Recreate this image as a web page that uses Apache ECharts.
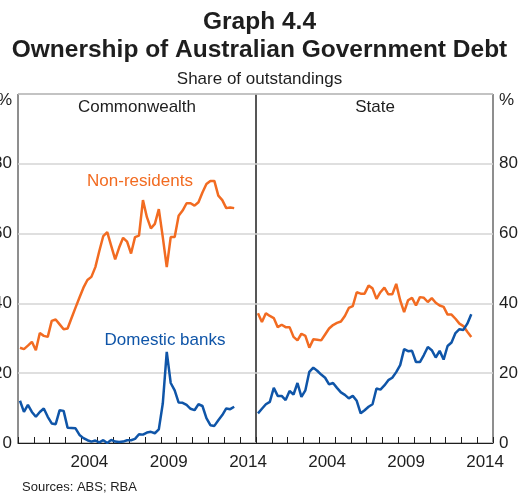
<!DOCTYPE html>
<html>
<head>
<meta charset="utf-8">
<script src="https://cdn.jsdelivr.net/npm/echarts@6/dist/echarts.min.js"></script>
<style>
html,body{margin:0;padding:0;background:#fff}
#chart{width:519px;height:493px}
</style>
</head>
<body>
<div id="chart"></div>
<script>
// quarterly observations, Mar-2000 .. Sep-2013
var startYear = 2000.125;
var stepYear = 0.25;

// Commonwealth
var commNonResidents = [27.3,26.9,27.9,29.0,26.6,31.5,30.7,30.4,35.0,35.4,34.0,32.6,32.8,35.8,38.8,41.7,44.5,46.7,47.6,50.4,55.0,59.3,60.4,56.5,52.6,56.0,58.8,57.7,54.3,59.0,59.4,69.6,64.7,61.5,62.8,67.0,59.0,50.4,59.0,59.0,65.1,66.6,68.7,68.7,68.0,69.0,71.8,74.2,75.1,75.1,70.9,69.6,67.3,67.5,67.3];
var commDomesticBanks = [12.1,8.9,10.9,8.9,7.5,8.9,9.9,7.5,5.6,5.4,9.4,9.2,4.4,4.3,4.2,2.3,1.4,0.8,0.4,0.7,0.2,0.8,0.0,0.9,0.4,0.3,0.4,0.8,0.8,1.2,2.5,2.4,3.0,3.2,2.8,3.9,11.3,26.1,17.2,15.1,11.6,11.5,10.9,9.8,9.4,11.1,10.6,7.1,5.1,4.9,6.5,8.0,9.9,9.7,10.4];

// State
var stateNonResidents = [37.2,34.7,37.2,36.4,35.8,33.2,33.9,33.2,33.2,30.4,29.4,31.3,30.7,27.3,29.7,29.6,29.4,31.1,32.8,33.8,34.4,34.8,36.4,38.7,39.2,43.2,42.8,42.8,45.1,44.3,41.3,43.2,44.5,42.6,42.6,45.6,40.9,37.5,40.9,41.6,39.4,41.8,41.6,40.4,41.5,40.2,39.4,39.0,36.8,36.8,35.6,34.2,33.5,31.9,30.4];
var stateDomesticBanks = [8.5,9.8,11.1,11.8,15.8,13.5,13.5,12.3,14.9,13.9,17.2,13.2,15.1,20.4,21.6,20.7,19.6,18.7,16.8,17.2,15.8,14.5,13.8,12.8,13.5,12.1,8.5,9.4,10.4,11.1,15.6,15.3,16.5,18.0,18.7,20.3,22.3,26.9,26.3,26.4,23.2,23.2,25.2,27.5,26.6,24.5,26.4,23.9,27.8,28.8,31.5,32.6,32.4,34.2,36.9];

var yearTicks = [2000,2001,2002,2003,2004,2005,2006,2007,2008,2009,2010,2011,2012,2013,2014,2015];
var yearLabels = [2004.5, 2009.5, 2014.5];

var orange = '#f26b21';
var blue = '#0f55a8';
var ink = '#1e1e1e';
var font = 'Liberation Sans, Arial, sans-serif';

function pairs(vals) {
	var out = [];
	for (var i = 0; i < vals.length; i++) {
		out.push([startYear + i * stepYear, vals[i]]);
	}
	return out;
}

function xAxisFor(idx) {
	return {
		type: 'value',
		gridIndex: idx,
		min: 2000,
		max: 2015,
		splitLine: {show: false},
		axisLine: {show: true, lineStyle: {color: ink, width: 1}},
		axisTick: {show: true, inside: true, length: 6, customValues: yearTicks, lineStyle: {color: ink, width: 1}},
		axisLabel: {
			customValues: yearLabels,
			margin: 11,
			fontSize: 17,
			fontFamily: font,
			color: ink,
			formatter: function(v) { return Math.floor(v); }
		}
	};
}

function yAxisFor(idx, pos) {
	return {
		type: 'value',
		gridIndex: idx,
		position: pos,
		min: 0,
		max: 100,
		interval: 20,
		axisLine: {show: false},
		axisTick: {show: false},
		splitLine: {show: true, lineStyle: {color: '#d5d5d5', width: 1.5}},
		axisLabel: {
			margin: 6,
			fontSize: 17,
			fontFamily: font,
			color: ink,
			showMinLabel: true,
			showMaxLabel: true,
			formatter: function(v) { return v === 100 ? '{p|%}' : '' + v; },
			rich: {p: {fontSize: 17, fontFamily: font, color: ink, padding: [12, 0, 0, 0]}}
		}
	};
}

var myChart = echarts.init(document.getElementById('chart'), null, {renderer: 'canvas'});

var option = {
	animation: false,
	backgroundColor: '#fff',
	textStyle: {fontFamily: font},
	title: [
		{text: 'Graph 4.4', left: 'center', top: 5, textStyle: {fontSize: 24.5, fontWeight: 'bold', color: ink, fontFamily: font}},
		{text: 'Ownership of Australian Government Debt', left: 'center', top: 33, textStyle: {fontSize: 24.5, fontWeight: 'bold', color: ink, fontFamily: font}},
		{text: 'Share of outstandings', left: 'center', top: 66, textStyle: {fontSize: 17, fontWeight: 'normal', color: ink, fontFamily: font}},
		{text: 'Sources: ABS; RBA', left: 17, top: 476, textStyle: {fontSize: 13, fontWeight: 'normal', color: ink, fontFamily: font}}
	],
	grid: [
		{left: 18, top: 94, width: 238, height: 349, show: true, borderColor: ink, borderWidth: 1, outerBoundsMode: 'none', containLabel: false},
		{left: 256, top: 94, width: 237, height: 349, show: true, borderColor: ink, borderWidth: 1, outerBoundsMode: 'none', containLabel: false}
	],
	xAxis: [xAxisFor(0), xAxisFor(1)],
	yAxis: [yAxisFor(0, 'left'), yAxisFor(1, 'right')],
	graphic: [
		{type: 'text', style: {x: 137, y: 107, text: 'Commonwealth', fontSize: 17, fontFamily: font, fill: ink, align: 'center', verticalAlign: 'middle'}},
		{type: 'text', style: {x: 375, y: 107, text: 'State', fontSize: 17, fontFamily: font, fill: ink, align: 'center', verticalAlign: 'middle'}},
		{type: 'text', style: {x: 140, y: 181, text: 'Non-residents', fontSize: 17, fontFamily: font, fill: orange, align: 'center', verticalAlign: 'middle'}},
		{type: 'text', style: {x: 165, y: 340, text: 'Domestic banks', fontSize: 17, fontFamily: font, fill: blue, align: 'center', verticalAlign: 'middle'}}
	],
	series: [
		{name: 'Commonwealth non-residents', type: 'line', xAxisIndex: 0, yAxisIndex: 0, data: pairs(commNonResidents), showSymbol: false, lineStyle: {color: orange, width: 2.5}, itemStyle: {color: orange}},
		{name: 'Commonwealth domestic banks', type: 'line', xAxisIndex: 0, yAxisIndex: 0, data: pairs(commDomesticBanks), showSymbol: false, lineStyle: {color: blue, width: 2.5}, itemStyle: {color: blue}},
		{name: 'State non-residents', type: 'line', xAxisIndex: 1, yAxisIndex: 1, data: pairs(stateNonResidents), showSymbol: false, lineStyle: {color: orange, width: 2.5}, itemStyle: {color: orange}},
		{name: 'State domestic banks', type: 'line', xAxisIndex: 1, yAxisIndex: 1, data: pairs(stateDomesticBanks), showSymbol: false, lineStyle: {color: blue, width: 2.5}, itemStyle: {color: blue}}
	]
};

myChart.setOption(option);
</script>
</body>
</html>
